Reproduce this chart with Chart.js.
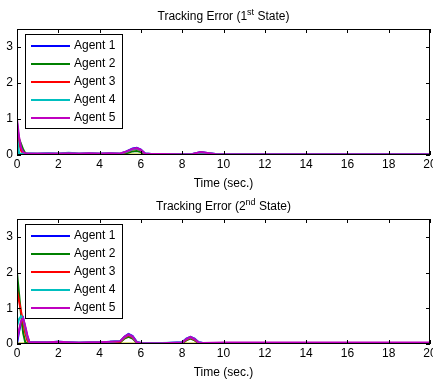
<!DOCTYPE html>
<html>
<head>
<meta charset="utf-8">
<script src="https://cdn.jsdelivr.net/npm/chart.js@4.4.0/dist/chart.umd.min.js"></script>
<style>
  body { margin: 0; background: #fff; }
  .plot { position: relative; width: 433px; }
  canvas { display: block; }
</style>
</head>
<body>
<div class="plot" style="height:190px"><canvas id="state1" width="433" height="190"></canvas></div>
<div class="plot" style="height:189px"><canvas id="state2" width="433" height="189"></canvas></div>
<script>
const agentNames = ['Agent 1', 'Agent 2', 'Agent 3', 'Agent 4', 'Agent 5'];
const agentColors = ['#0000ff', '#008000', '#ff0000', '#00bfbf', '#bf00bf'];
const xTicks = [0, 2, 4, 6, 8, 10, 12, 14, 16, 18, 20];
const yTicks = [0, 1, 2, 3];

// 1st state
const time1 = [0, 0.1, 0.2, 0.3, 0.4, 0.6, 1, 1.5, 2, 2.5, 3, 3.5, 4, 4.5, 5, 5.3, 5.6, 5.8, 6, 6.2, 6.5, 7, 8, 8.5, 8.9, 9.3, 9.6, 10, 12, 14, 16, 18, 20];
const err1Agent1 = [0.9, 0.4, 0.15, 0.06, 0.04, 0.03, 0.03, 0.04, 0.03, 0.05, 0.03, 0.04, 0.03, 0.04, 0.03, 0.1, 0.18, 0.2, 0.15, 0.04, 0.03, 0.03, 0.02, 0.03, 0.08, 0.05, 0.03, 0.02, 0.02, 0.02, 0.02, 0.02, 0.02];
const err1Agent2 = [0.6, 0.45, 0.3, 0.15, 0.05, 0.02, 0.02, 0.02, 0.02, 0.03, 0.02, 0.02, 0.02, 0.02, 0.02, 0.05, 0.1, 0.11, 0.08, 0.02, 0.01, 0.01, 0.01, 0.02, 0.05, 0.03, 0.01, 0.01, 0.01, 0.01, 0.01, 0.01, 0.01];
const err1Agent3 = [0.8, 0.35, 0.12, 0.05, 0.03, 0.02, 0.02, 0.03, 0.02, 0.04, 0.02, 0.03, 0.02, 0.03, 0.02, 0.08, 0.15, 0.17, 0.12, 0.03, 0.02, 0.02, 0.02, 0.02, 0.07, 0.04, 0.02, 0.02, 0.02, 0.02, 0.02, 0.02, 0.02];
const err1Agent4 = [0.5, 0.05, 0.03, 0.04, 0.03, 0.05, 0.04, 0.05, 0.04, 0.06, 0.04, 0.05, 0.04, 0.05, 0.04, 0.09, 0.16, 0.18, 0.13, 0.04, 0.03, 0.03, 0.03, 0.03, 0.07, 0.05, 0.03, 0.03, 0.03, 0.03, 0.03, 0.03, 0.03];
const err1Agent5 = [1.0, 0.5, 0.2, 0.08, 0.05, 0.04, 0.04, 0.04, 0.04, 0.05, 0.04, 0.05, 0.04, 0.05, 0.04, 0.1, 0.17, 0.19, 0.14, 0.04, 0.03, 0.03, 0.02, 0.03, 0.08, 0.05, 0.03, 0.02, 0.02, 0.02, 0.02, 0.02, 0.02];

// 2nd state
const time2 = [0, 0.1, 0.2, 0.3, 0.4, 0.5, 0.6, 1, 1.5, 2, 2.5, 3, 3.5, 4, 4.5, 5, 5.2, 5.4, 5.6, 5.8, 6, 7, 8, 8.2, 8.4, 8.6, 8.8, 9, 10, 12, 14, 16, 18, 20];
const err2Agent1 = [0, 0.35, 0.6, 0.72, 0.45, 0.2, 0.05, 0.05, 0.04, 0.06, 0.05, 0.03, 0.04, 0.04, 0.06, 0.08, 0.2, 0.28, 0.22, 0.06, 0.03, 0.02, 0.05, 0.15, 0.2, 0.15, 0.05, 0.03, 0.03, 0.03, 0.03, 0.03, 0.03, 0.03];
const err2Agent2 = [2.0, 1.4, 0.8, 0.3, 0.05, 0.02, 0.02, 0.02, 0.02, 0.03, 0.02, 0.02, 0.02, 0.02, 0.03, 0.05, 0.15, 0.2, 0.15, 0.03, 0.01, 0.01, 0.02, 0.1, 0.15, 0.1, 0.02, 0.01, 0.01, 0.01, 0.01, 0.01, 0.01, 0.01];
const err2Agent3 = [1.5, 1.2, 0.9, 0.6, 0.3, 0.1, 0.03, 0.03, 0.03, 0.04, 0.03, 0.02, 0.03, 0.03, 0.04, 0.06, 0.17, 0.24, 0.18, 0.04, 0.02, 0.02, 0.03, 0.12, 0.17, 0.12, 0.03, 0.02, 0.02, 0.02, 0.02, 0.02, 0.02, 0.02];
const err2Agent4 = [0.5, 0.7, 0.78, 0.7, 0.45, 0.2, 0.05, 0.05, 0.05, 0.06, 0.05, 0.04, 0.05, 0.05, 0.06, 0.08, 0.19, 0.26, 0.2, 0.05, 0.03, 0.03, 0.04, 0.14, 0.19, 0.14, 0.04, 0.03, 0.03, 0.03, 0.03, 0.03, 0.03, 0.03];
const err2Agent5 = [0.1, 0.4, 0.65, 0.72, 0.5, 0.25, 0.05, 0.05, 0.05, 0.06, 0.05, 0.04, 0.05, 0.05, 0.06, 0.08, 0.2, 0.27, 0.21, 0.05, 0.03, 0.02, 0.04, 0.14, 0.2, 0.14, 0.04, 0.03, 0.04, 0.04, 0.04, 0.04, 0.04, 0.04];

const baseTime = [0, 20];
const baseValues = [0, 0];

const FONT = '"Liberation Sans", Arial, sans-serif';

function toPoints(times, values) {
  return times.map((t, i) => ({ x: t, y: values[i] }));
}

// MATLAB-style box, inward ticks, legend box and titles
const matlabAxes = {
  id: 'matlabAxes',
  afterDraw(chart, args, opts) {
    const ctx = chart.ctx;
    const a = chart.chartArea;
    const xs = chart.scales.x, ys = chart.scales.y;
    ctx.save();
    ctx.strokeStyle = '#000';
    ctx.lineWidth = 1;
    ctx.strokeRect(Math.round(a.left) + 0.5, Math.round(a.top) + 0.5, Math.round(a.right - a.left) - 1, Math.round(a.bottom - a.top) - 1);
    ctx.beginPath();
    xTicks.forEach(v => {
      const px = Math.round(xs.getPixelForValue(v)) + 0.5;
      ctx.moveTo(px, a.bottom); ctx.lineTo(px, a.bottom - 4);
      ctx.moveTo(px, a.top); ctx.lineTo(px, a.top + 4);
    });
    yTicks.forEach(v => {
      const py = Math.round(ys.getPixelForValue(v)) + 0.5;
      ctx.moveTo(a.left, py); ctx.lineTo(a.left + 4, py);
      ctx.moveTo(a.right, py); ctx.lineTo(a.right - 4, py);
    });
    ctx.stroke();

    // legend
    const lx = a.left + 8, ly = a.top + 5, lw = 97, lh = 94;
    ctx.fillStyle = '#fff';
    ctx.fillRect(lx, ly, lw, lh);
    ctx.strokeRect(lx + 0.5, ly + 0.5, lw, lh);
    ctx.font = '12px ' + FONT;
    ctx.textBaseline = 'middle';
    ctx.textAlign = 'left';
    agentNames.forEach((name, i) => {
      const y = ly + 12 + i * 18;
      ctx.strokeStyle = agentColors[i];
      ctx.lineWidth = 2;
      ctx.beginPath();
      ctx.moveTo(lx + 6, y); ctx.lineTo(lx + 45, y);
      ctx.stroke();
      ctx.fillStyle = '#000';
      ctx.fillText(name, lx + 49, y);
    });

    // title with superscript
    const cx = (a.left + a.right) / 2;
    const parts = [['Tracking Error (', 12, 0], [opts.num, 12, 0], [opts.sup, 9, -5], [' State)', 12, 0]];
    let total = 0;
    parts.forEach(p => { ctx.font = p[1] + 'px ' + FONT; total += ctx.measureText(p[0]).width; });
    let x = cx - total / 2;
    ctx.fillStyle = '#000';
    ctx.textBaseline = 'alphabetic';
    parts.forEach(p => {
      ctx.font = p[1] + 'px ' + FONT;
      ctx.fillText(p[0], x, 20 + p[2]);
      x += ctx.measureText(p[0]).width;
    });

    // x label
    ctx.font = '12px ' + FONT;
    ctx.textAlign = 'center';
    ctx.fillText('Time (sec.)', cx, a.bottom + 32);
    ctx.restore();
  }
};

function makeChart(id, times, series, num, sup) {
  const datasets = series.map((vals, i) => ({
    label: agentNames[i],
    data: toPoints(times, vals),
    borderColor: agentColors[i],
    borderWidth: 2,
    pointRadius: 0,
    tension: 0,
    order: 5 - i
  }));
  datasets.push({
    label: 'base',
    data: toPoints(baseTime, baseValues),
    borderColor: '#bfbf00',
    borderWidth: 3,
    pointRadius: 0,
    order: 10
  });
  new Chart(document.getElementById(id).getContext('2d'), {
    type: 'line',
    data: { datasets },
    options: {
      responsive: false,
      animation: false,
      layout: { padding: { top: 29, right: 3, left: 0, bottom: 0 } },
      plugins: {
        legend: { display: false },
        tooltip: { enabled: false },
        matlabAxes: { num, sup }
      },
      scales: {
        x: {
          type: 'linear', min: 0, max: 20,
          afterBuildTicks: s => { s.ticks = xTicks.map(v => ({ value: v })); },
          afterFit: s => { s.height = 35; s.paddingLeft = 0; s.paddingRight = 0; },
          grid: { display: false, drawTicks: false },
          border: { display: false },
          ticks: { color: '#000', font: { family: FONT, size: 12 }, padding: 2, maxRotation: 0 }
        },
        y: {
          type: 'linear', min: 0, max: 3.5,
          afterBuildTicks: s => { s.ticks = yTicks.map(v => ({ value: v })); },
          afterFit: s => { s.width = 17; s.paddingTop = 0; s.paddingBottom = 0; },
          grid: { display: false, drawTicks: false },
          border: { display: false },
          ticks: { color: '#000', font: { family: FONT, size: 12 }, padding: 4 }
        }
      }
    },
    plugins: [matlabAxes]
  });
}

makeChart('state1', time1, [err1Agent1, err1Agent2, err1Agent3, err1Agent4, err1Agent5], '1', 'st');
makeChart('state2', time2, [err2Agent1, err2Agent2, err2Agent3, err2Agent4, err2Agent5], '2', 'nd');
</script>
</body>
</html>
